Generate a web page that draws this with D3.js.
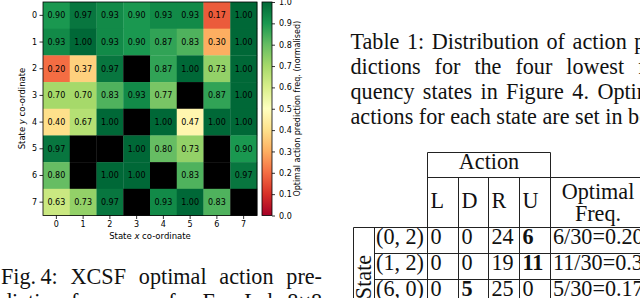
<!DOCTYPE html>
<html>
<head>
<meta charset="UTF-8">
<title>XCSF optimal action prediction frequency</title>
<script src="https://cdn.jsdelivr.net/npm/d3@7"></script>
<style>
  body { margin: 0; background: #fff; }
  svg { display: block; }
</style>
</head>
<body>
<svg id="page" width="640" height="298"></svg>
<script>
// heatmap data: rows are state y 0..7, columns state x 0..7 (null = never visited)
const xStates = [0, 1, 2, 3, 4, 5, 6, 7];
const yStates = [0, 1, 2, 3, 4, 5, 6, 7];
const freqRows = [
  [0.90, 0.97, 0.93, 0.90, 0.93, 0.93, 0.17, 1.00],
  [0.93, 1.00, 0.93, 0.90, 0.87, 0.83, 0.30, 1.00],
  [0.20, 0.37, 0.97, null, 0.87, 1.00, 0.73, 1.00],
  [0.70, 0.70, 0.83, 0.93, 0.77, null, 0.87, 1.00],
  [0.40, 0.67, 1.00, null, 1.00, 0.47, 1.00, 1.00],
  [0.97, null, null, 1.00, 0.80, 0.73, null, 0.90],
  [0.80, null, 1.00, 1.00, null, 0.83, null, 0.97],
  [0.63, 0.73, 0.97, null, 0.93, 1.00, 0.83, null]
];
const barTicks = [0, 0.1, 0.2, 0.3, 0.4, 0.5, 0.6, 0.7, 0.8, 0.9, 1.0];

// table data
const tableActions = ["L", "D", "R", "U"];
const tableStates = ["(0, 2)", "(1, 2)", "(6, 0)"];
const tableCounts = [[0, 0, 24, 6], [0, 0, 19, 11], [0, 5, 25, 0]];
const tableOptimal = [3, 3, 1];
const tableFreq = ["6/30=0.20", "11/30=0.37", "5/30=0.17"];

// caption texts
const figCaption = [
  "Fig.\u20094: XCSF optimal action pre-",
  "diction frequency for FourLab 8\u00d78"
];
const tableCaption = [
  "Table 1: Distribution of action pre-",
  "dictions for the four lowest fre-",
  "quency states in Figure 4. Optimal",
  "actions for each state are set in bold."
];

const SANS = "'DejaVu Sans', sans-serif";
const SERIF = "'Liberation Serif', 'DejaVu Serif', serif";

const svg = d3.select("#page");
svg.append("rect").attr("width", 640).attr("height", 298).attr("fill", "#fff");

// ---------- heatmap ----------
const x = d3.scaleBand().domain(xStates).range([43, 257]);
const y = d3.scaleBand().domain(yStates).range([2, 215.5]);
const colour = d3.scaleLinear()
  .domain(d3.range(11).map(i => i / 10))
  .range(d3.schemeRdYlGn[11])
  .clamp(true);

const cells = [];
freqRows.forEach((row, r) => row.forEach((v, c) => cells.push({ r, c, v })));

const heat = svg.append("g");
heat.selectAll("rect").data(cells).join("rect")
  .attr("x", d => x(xStates[d.c]))
  .attr("y", d => y(yStates[d.r]))
  .attr("width", x.bandwidth() + 0.3)
  .attr("height", y.bandwidth() + 0.3)
  .attr("fill", d => d.v == null ? "#000" : colour(d.v));

heat.selectAll("text").data(cells.filter(d => d.v != null)).join("text")
  .attr("x", d => x(xStates[d.c]) + x.bandwidth() / 2)
  .attr("y", d => y(yStates[d.r]) + y.bandwidth() / 2)
  .attr("dy", "0.36em")
  .attr("text-anchor", "middle")
  .attr("font-family", SANS)
  .attr("font-size", 8)
  .attr("fill", "#000")
  .text(d => d3.format(".2f")(d.v));

heat.append("rect")
  .attr("x", 43).attr("y", 2).attr("width", 214).attr("height", 213.5)
  .attr("fill", "none").attr("stroke", "#000").attr("stroke-width", 0.8);

function styleAxis(g) {
  g.select(".domain").remove();
  g.selectAll("line").attr("stroke", "#000").attr("stroke-width", 0.8);
  g.selectAll("text").attr("font-family", SANS).attr("font-size", 8).attr("fill", "#000");
}

svg.append("g").attr("transform", "translate(43,0)")
  .call(d3.axisLeft(y).tickSize(3.5).tickPadding(2.5))
  .call(styleAxis);

svg.append("g").attr("transform", "translate(0,215.5)")
  .call(d3.axisBottom(x).tickSize(3.5).tickPadding(2))
  .call(styleAxis);

const xLabel = svg.append("text")
  .attr("x", 150).attr("y", 239)
  .attr("text-anchor", "middle")
  .attr("font-family", SANS).attr("font-size", 8.5);
xLabel.append("tspan").text("State ");
xLabel.append("tspan").attr("font-style", "italic").text("x");
xLabel.append("tspan").text(" co-ordinate");

const yLabel = svg.append("text")
  .attr("transform", "translate(25,108.5) rotate(-90)")
  .attr("text-anchor", "middle")
  .attr("font-family", SANS).attr("font-size", 8.5);
yLabel.append("tspan").text("State ");
yLabel.append("tspan").attr("font-style", "italic").text("y");
yLabel.append("tspan").text(" co-ordinate");

// ---------- colour bar ----------
const cbY = d3.scaleLinear().domain([0, 1]).range([215.5, 2]);
const grad = svg.append("defs").append("linearGradient")
  .attr("id", "cbgrad").attr("x1", 0).attr("y1", 1).attr("x2", 0).attr("y2", 0);
grad.selectAll("stop").data(barTicks).join("stop")
  .attr("offset", d => d)
  .attr("stop-color", d => colour(d));

svg.append("rect")
  .attr("x", 262).attr("y", cbY(1)).attr("width", 10).attr("height", cbY(0) - cbY(1))
  .attr("fill", "url(#cbgrad)")
  .attr("stroke", "#000").attr("stroke-width", 0.8);

svg.append("g").attr("transform", "translate(272,0)")
  .call(d3.axisRight(cbY).tickValues(barTicks).tickFormat(d3.format(".1f")).tickSize(3).tickPadding(4))
  .call(styleAxis);

svg.append("text")
  .attr("transform", "translate(300," + (cbY(0.5)) + ") rotate(-90)")
  .attr("text-anchor", "middle")
  .attr("font-family", SANS).attr("font-size", 8)
  .text("Optimal action prediction freq. (normalised)");

// ---------- serif text ----------
function measure(txt, size, weight) {
  const t = svg.append("text")
    .attr("font-family", SERIF).attr("font-size", size)
    .attr("font-weight", weight || "normal")
    .text(txt);
  const w = t.node().getComputedTextLength();
  t.remove();
  return w;
}

// match the width of the last caption line
const serifSize = 20 * 272 / measure("actions for each state are set in", 20);
const spaceW = measure("a a", serifSize) - measure("aa", serifSize);

const prose = svg.append("g")
  .attr("font-family", SERIF).attr("font-size", serifSize).attr("fill", "#111");

function setLine(line, x0, x1, baseline) {
  const words = line.split(" ");
  const widths = words.map(w => measure(w, serifSize));
  const gap = x1 == null ? spaceW : (x1 - x0 - d3.sum(widths)) / (words.length - 1);
  let cx = x0;
  words.forEach((w, i) => {
    prose.append("text").attr("x", cx).attr("y", baseline).text(w);
    cx += widths[i] + gap;
  });
}

setLine(figCaption[0], 1, 322, 284);
setLine(figCaption[1], 1, 322, 309);

tableCaption.forEach((line, i) => {
  const last = i === tableCaption.length - 1;
  setLine(line, 350.5, last ? null : 670, 49 + i * 25);
});

// ---------- table ----------
const tab = svg.append("g")
  .attr("font-family", SERIF).attr("font-size", serifSize).attr("fill", "#111");
const colEdges = [353.5, 374.5, 427.5, 458.5, 488.5, 519.5, 550.5];
const headTop = 152.5, subTop = 177.5, bodyTop = 227.5, rowH = 26;

const rules = [
  [colEdges[0], bodyTop, colEdges[0], 298],
  [colEdges[1], bodyTop, colEdges[1], 298],
  [colEdges[2], headTop, colEdges[2], 298],
  [colEdges[3], subTop, colEdges[3], 298],
  [colEdges[4], subTop, colEdges[4], 298],
  [colEdges[5], subTop, colEdges[5], 298],
  [colEdges[6], headTop, colEdges[6], 298],
  [colEdges[2], headTop, colEdges[6], headTop],
  [colEdges[2], subTop, 640, subTop],
  [colEdges[0], bodyTop, 640, bodyTop]
];
tableStates.forEach((s, i) => {
  if (i > 0) rules.push([colEdges[1], bodyTop + i * rowH, 640, bodyTop + i * rowH]);
});
rules.push([colEdges[1], bodyTop + 3 * rowH, 640, bodyTop + 3 * rowH]);

tab.selectAll("line").data(rules).join("line")
  .attr("x1", d => d[0]).attr("y1", d => d[1])
  .attr("x2", d => d[2]).attr("y2", d => d[3])
  .attr("stroke", "#222").attr("stroke-width", 1);

tab.append("text").attr("x", (colEdges[2] + colEdges[6]) / 2).attr("y", 169)
  .attr("text-anchor", "middle").text("Action");
tableActions.forEach((a, j) => {
  tab.append("text").attr("x", colEdges[2 + j] + 3).attr("y", 208).text(a);
});
tab.append("text").attr("x", 598).attr("y", 199).attr("text-anchor", "middle").text("Optimal");
tab.append("text").attr("x", 598).attr("y", 221).attr("text-anchor", "middle").text("Freq.");

tab.append("text")
  .attr("transform", "translate(371,277) rotate(-90)")
  .attr("text-anchor", "middle").text("State");

tableStates.forEach((s, i) => {
  const base = bodyTop + i * rowH + 16;
  tab.append("text").attr("x", colEdges[1] + 1.5).attr("y", base).text(s);
  tableCounts[i].forEach((n, j) => {
    tab.append("text").attr("x", colEdges[2 + j] + 3).attr("y", base)
      .attr("font-weight", tableOptimal[i] === j ? "bold" : "normal")
      .text(n);
  });
  tab.append("text").attr("x", colEdges[6] + 2.5).attr("y", base).text(tableFreq[i]);
});
</script>
</body>
</html>
